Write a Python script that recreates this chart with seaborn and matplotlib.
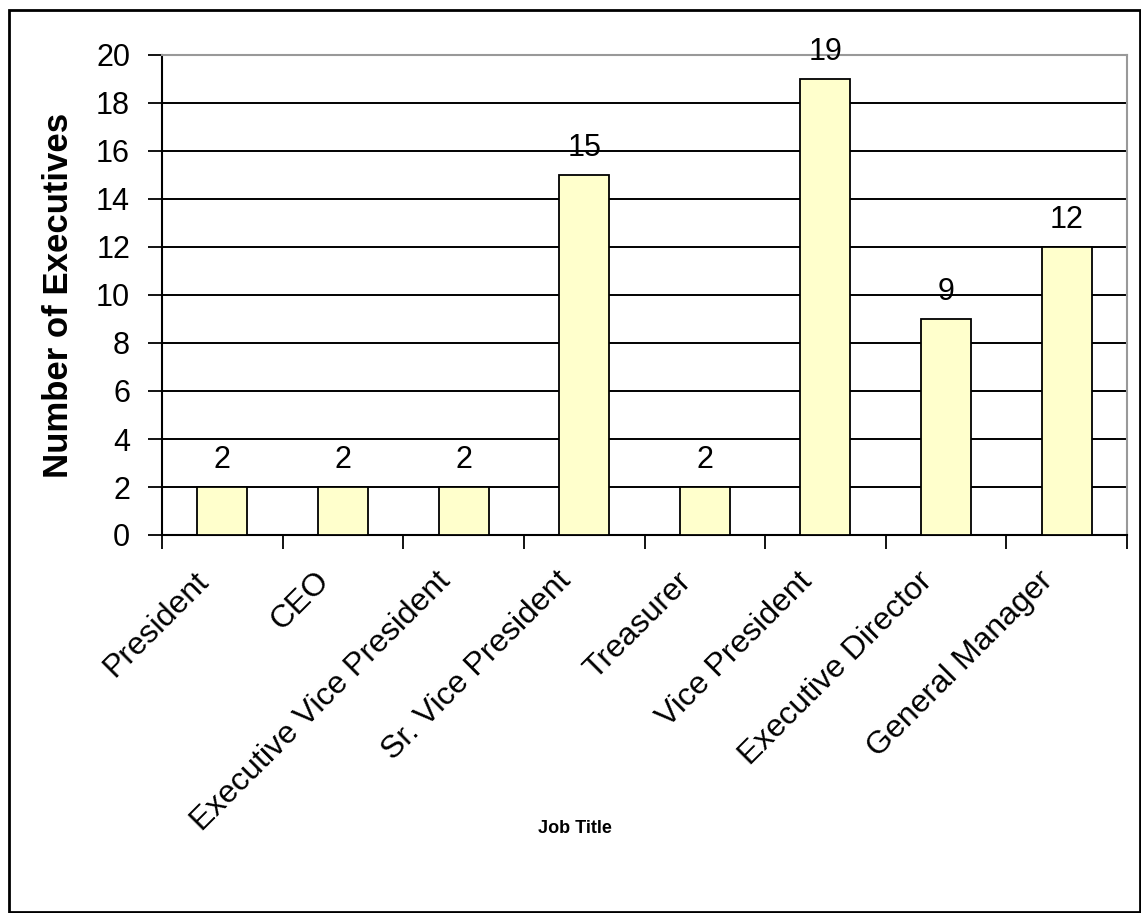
import matplotlib
matplotlib.use("Agg")
import matplotlib.pyplot as plt
import matplotlib.transforms as mtransforms
import seaborn as sns
import pandas as pd
from matplotlib.patches import Rectangle

categories = ["President", "CEO", "Executive Vice President", "Sr. Vice President",
              "Treasurer", "Vice President", "Executive Director", "General Manager"]
counts = [2, 2, 2, 15, 2, 19, 9, 12]
y_ticks = [0, 2, 4, 6, 8, 10, 12, 14, 16, 18, 20]

sns.set_theme(style="white")
plt.rcParams['font.family'] = ['Liberation Sans', 'DejaVu Sans']
plt.rcParams.update({"text.color": "black", "axes.labelcolor": "black",
                     "xtick.color": "black", "ytick.color": "black"})

df = pd.DataFrame({"Job Title": categories, "Number of Executives": counts})

fig = plt.figure(figsize=(11.41, 9.13), dpi=100)
W, H = 1141, 913
ax = fig.add_axes([162 / W, 1 - 535 / H, (1127 - 162) / W, (535 - 55) / H])

sns.barplot(data=df, x="Job Title", y="Number of Executives", ax=ax,
            color="#FFFFCC", saturation=1, width=0.415,
            edgecolor="black", linewidth=1.3, zorder=3)

ax.set_ylim(0, 20)
ax.set_xlim(-0.5, len(categories) - 0.5)
ax.set_yticks(y_ticks)
ax.set_yticklabels([str(v) for v in y_ticks], fontsize=22)
for v in y_ticks[1:-1]:
    ax.axhline(v, color="black", linewidth=1.4, zorder=1)

# x ticks at category boundaries
ax.set_xticks([i - 0.5 for i in range(len(categories) + 1)], minor=True)
ax.tick_params(axis="x", which="minor", length=10, width=1.3, color="black", direction="out", bottom=True)
ax.tick_params(axis="x", which="major", length=0, pad=30)
ax.tick_params(axis="y", length=10, width=1.3, color="black", direction="out", left=True, pad=13)
ax.set_xticks(range(len(categories)))
ax.set_xticklabels(categories, rotation=45, ha="right", va="center",
                   rotation_mode="anchor", fontsize=23)
shift = mtransforms.ScaledTranslation(-18 / 100, 0, fig.dpi_scale_trans)
for lbl in ax.get_xticklabels():
    lbl.set_transform(lbl.get_transform() + shift)

for s in ["left", "bottom"]:
    ax.spines[s].set_color("black")
    ax.spines[s].set_linewidth(1.5)
for s in ["top", "right"]:
    ax.spines[s].set_color("#999999")
    ax.spines[s].set_linewidth(1.5)

for i, v in enumerate(counts):
    ax.annotate(str(v), (i, v), xytext=(0, 13.5), textcoords="offset points",
                ha="center", va="baseline", fontsize=22, zorder=5)

ax.set_ylabel("Number of Executives", fontsize=25, fontweight="bold", labelpad=15)
ax.set_xlabel("")
fig.text(575 / W, 1 - 828 / H, "Job Title", fontsize=13, fontweight="bold",
         ha="center", va="center")

fig.patches.append(Rectangle((9 / W, 1 - 912 / H), (1140 - 9) / W, (912 - 10) / H,
                             transform=fig.transFigure, fill=False,
                             edgecolor="black", linewidth=2))

fig.savefig("out.png", dpi=100, facecolor="white")
